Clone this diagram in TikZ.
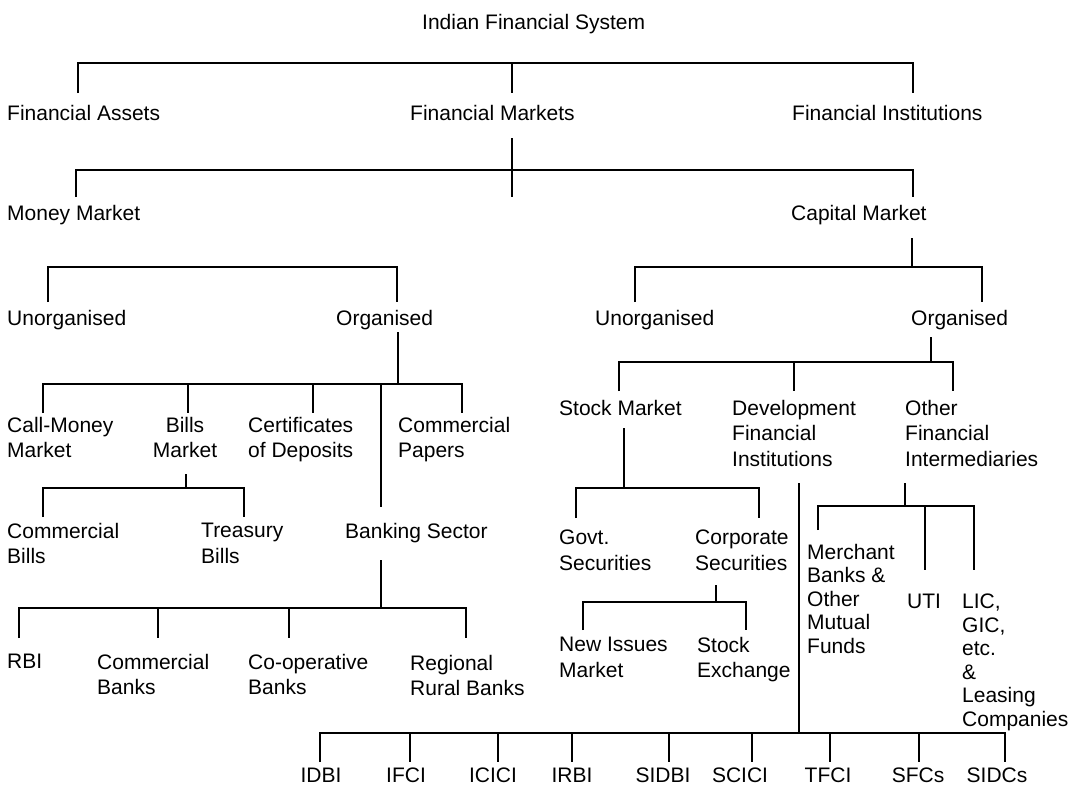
\documentclass[tikz,border=0pt]{standalone}
\usepackage{fontspec}
\setmainfont{Liberation Sans}
\begin{document}
\begin{tikzpicture}[x=1pt,y=-1pt,
  lbl/.style={anchor=north west, inner sep=0pt, align=left, font=\fontsize{21}{25.5}\selectfont},
  lblc/.style={anchor=north, inner sep=0pt, align=center, font=\fontsize{21}{25.5}\selectfont},
  tight/.style={font=\fontsize{21}{23.5}\selectfont},
  conn/.style={draw=black, line width=1.3pt}]
\useasboundingbox[fill=white] (0,0) rectangle (1081,788);
% texts (y = first line centre - 8)
\node[lbl] (title) at (422,14) {Indian Financial System};
\node[lbl] (fa) at (7,105) {Financial Assets};
\node[lbl] (fm) at (410,105) {Financial Markets};
\node[lbl] (fi) at (792,105) {Financial Institutions};
\node[lbl] (mm) at (7,205) {Money Market};
\node[lbl] (cm) at (791,205) {Capital Market};
\node[lbl] (unorgL) at (7,310) {Unorganised};
\node[lbl] (orgL) at (336,310) {Organised};
\node[lbl] (unorgR) at (595,310) {Unorganised};
\node[lbl] (orgR) at (911,310) {Organised};
\node[lbl] (callm) at (7,417) {Call-Money\\Market};
\node[lblc] (billsm) at (185,417) {Bills\\Market};
\node[lbl] (cod) at (248,417) {Certificates\\of Deposits};
\node[lbl] (cp) at (398,417) {Commercial\\Papers};
\node[lbl] (stock) at (559,400) {Stock Market};
\node[lbl] (dfi) at (732,400) {Development\\Financial\\Institutions};
\node[lbl] (ofi) at (905,400) {Other\\Financial\\Intermediaries};
\node[lbl] (cb) at (7,523) {Commercial\\Bills};
\node[lbl] (tb) at (201,523) {Treasury\\Bills};
\node[lbl] (bs) at (345,523) {Banking Sector};
\node[lbl] (govt) at (559,530) {Govt.\\Securities};
\node[lbl] (corp) at (695,530) {Corporate\\Securities};
\node[lbl,tight] (mb) at (807,544) {Merchant\\Banks \&\\Other\\Mutual\\Funds};
\node[lbl] (uti) at (907,594) {UTI};
\node[lbl,tight] (lic) at (962,594) {LIC,\\GIC,\\etc.\\\&\\Leasing\\Companies};
\node[lbl] (rbi) at (7,654) {RBI};
\node[lbl] (comb) at (97,654) {Commercial\\Banks};
\node[lbl] (coop) at (248,654) {Co-operative\\Banks};
\node[lbl] (rrb) at (410,655) {Regional\\Rural Banks};
\node[lbl] (nim) at (559,637) {New Issues\\Market};
\node[lbl] (se) at (697,637) {Stock\\Exchange};
\node[lblc] (idbi) at (321,768) {IDBI};
\node[lblc] (ifci) at (406,768) {IFCI};
\node[lblc] (icici) at (493,768) {ICICI};
\node[lblc] (irbi) at (572,768) {IRBI};
\node[lblc] (sidbi) at (663,768) {SIDBI};
\node[lblc] (scici) at (740,768) {SCICI};
\node[lblc] (tfci) at (828,768) {TFCI};
\node[lblc] (sfcs) at (918,768) {SFCs};
\node[lblc] (sidcs) at (997,768) {SIDCs};
% connectors
\draw[conn] (78,93) |- (913,63) -- (913,93);
\draw[conn] (512,63) -- (512,93);
\draw[conn] (512,138) -- (512,197);
\draw[conn] (76,197) |- (913,170) -- (913,197);
\draw[conn] (48,302) |- (397,267) -- (397,302);
\draw[conn] (912,238) -- (912,267);
\draw[conn] (635,302) |- (982,267) -- (982,302);
\draw[conn] (398,332) -- (398,384);
\draw[conn] (43,413) |- (462,384) -- (462,413);
\draw[conn] (188,384) -- (188,413);
\draw[conn] (313,384) -- (313,413);
\draw[conn] (381,384) -- (381,507);
\draw[conn] (186,474) -- (186,488);
\draw[conn] (43,517) |- (244,488) -- (244,517);
\draw[conn] (381,560) -- (381,608);
\draw[conn] (19,638) |- (466,608) -- (466,638);
\draw[conn] (158,608) -- (158,638);
\draw[conn] (289,608) -- (289,638);
\draw[conn] (931,337) -- (931,362);
\draw[conn] (619,391) |- (953,362) -- (953,391);
\draw[conn] (794,362) -- (794,391);
\draw[conn] (624,428) -- (624,488);
\draw[conn] (576,518) |- (759,488) -- (759,518);
\draw[conn] (716,585) -- (716,602);
\draw[conn] (583,630) |- (746,602) -- (746,630);
\draw[conn] (905,483) -- (905,506);
\draw[conn] (818,530) |- (974,506) -- (974,570);
\draw[conn] (925,506) -- (925,570);
\draw[conn] (799,483) -- (799,733);
\draw[conn] (320,762) |- (1005,733) -- (1005,762);
\foreach \x in {410,498,572,669,752,830,919} \draw[conn] (\x,733) -- (\x,762);
\end{tikzpicture}
\end{document}
